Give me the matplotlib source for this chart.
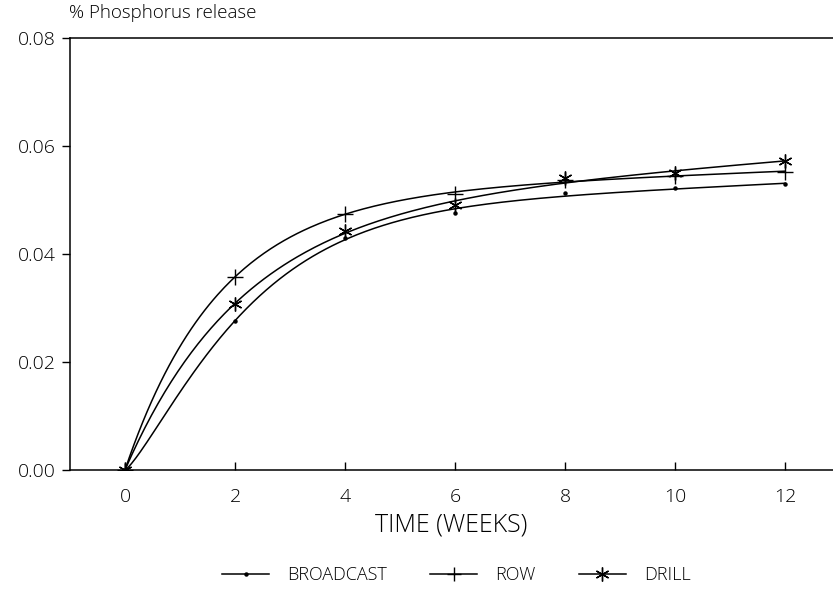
import numpy as np
import matplotlib
matplotlib.use("Agg")
import matplotlib.pyplot as plt
from matplotlib.lines import Line2D

plt.rcParams['font.family'] = ['Open Sans', 'DejaVu Sans']
plt.rcParams['font.weight'] = 'light'
plt.rcParams['axes.labelweight'] = 'light'

weeks = [0, 2, 4, 6, 8, 10, 12]
broadcast = [0.0, 0.0276, 0.0430, 0.0476, 0.0512, 0.0522, 0.0529]
row = [0.0, 0.0358, 0.0474, 0.0511, 0.0537, 0.0545, 0.0552]
drill = [0.0, 0.0308, 0.0442, 0.0490, 0.0540, 0.0550, 0.0573]
series_names = ["BROADCAST", "ROW", "DRILL"]
y_ticks = [0.00, 0.02, 0.04, 0.06, 0.08]
x_ticks = [0, 2, 4, 6, 8, 10, 12]


def smooth_fit(t, y, tt):
    """Least-squares fit y = a(1-exp(-(b t)^p)) + c t, b and p on a grid."""
    t = np.asarray(t, float)
    y = np.asarray(y, float)
    best = None
    for p in np.linspace(1.0, 1.4, 9):
        for b in np.linspace(0.05, 1.0, 190):
            A = np.column_stack([1 - np.exp(-(b * t) ** p), t])
            coef, *_ = np.linalg.lstsq(A, y, rcond=None)
            err = np.sum((A @ coef - y) ** 2)
            if best is None or err < best[0]:
                best = (err, b, p, coef)
    _, b, p, coef = best
    return coef[0] * (1 - np.exp(-(b * tt) ** p)) + coef[1] * tt


fig = plt.figure(figsize=(8.33, 5.99), dpi=100)
ax = fig.add_axes([0.084, 0.2154, 0.916, 0.7212])

tt = np.linspace(0, 12, 300)
markers = [dict(marker='o', ms=2.2), dict(marker='+', ms=11, mew=1.0),
           dict(marker=(6, 2, 0), ms=10, mew=1.0)]
for vals, mk in zip([broadcast, row, drill], markers):
    ax.plot(tt, smooth_fit(weeks, vals, tt), color='black', lw=1.1)
    ax.plot(weeks, vals, linestyle='none', color='black', **mk)

ax.set_xlim(-1, 12.87)
ax.set_ylim(0, 0.08)
ax.set_xticks(x_ticks)
ax.set_xticklabels([str(v) for v in x_ticks])
ax.set_yticks(y_ticks)
ax.set_yticklabels([f"{v:.2f}" for v in y_ticks])
ax.tick_params(axis='x', direction='in', length=6, width=1, pad=13, labelsize=14)
ax.tick_params(axis='y', direction='out', length=6, width=1, pad=4, labelsize=14)
ax.spines['right'].set_visible(False)
for s in ['left', 'bottom', 'top']:
    ax.spines[s].set_linewidth(1.1)

ax.set_xlabel("TIME (WEEKS)", fontsize=18, labelpad=5, fontweight='light')
fig.text(0.083, 0.963, "% Phosphorus release", fontsize=13.5, ha='left', va='bottom')

handles = [
    Line2D([], [], color='black', lw=1.1, marker='o', ms=2.2),
    Line2D([], [], color='black', lw=1.1, marker='+', ms=10, mew=1.0),
    Line2D([], [], color='black', lw=1.1, marker=(6, 2, 0), ms=10, mew=1.0),
]
fig.legend(handles, series_names, loc='center', bbox_to_anchor=(0.548, 0.04),
           ncol=3, frameon=False, fontsize=13, handlelength=2.6,
           columnspacing=2.4, handletextpad=1.0)

fig.savefig("out.png", dpi=100)
